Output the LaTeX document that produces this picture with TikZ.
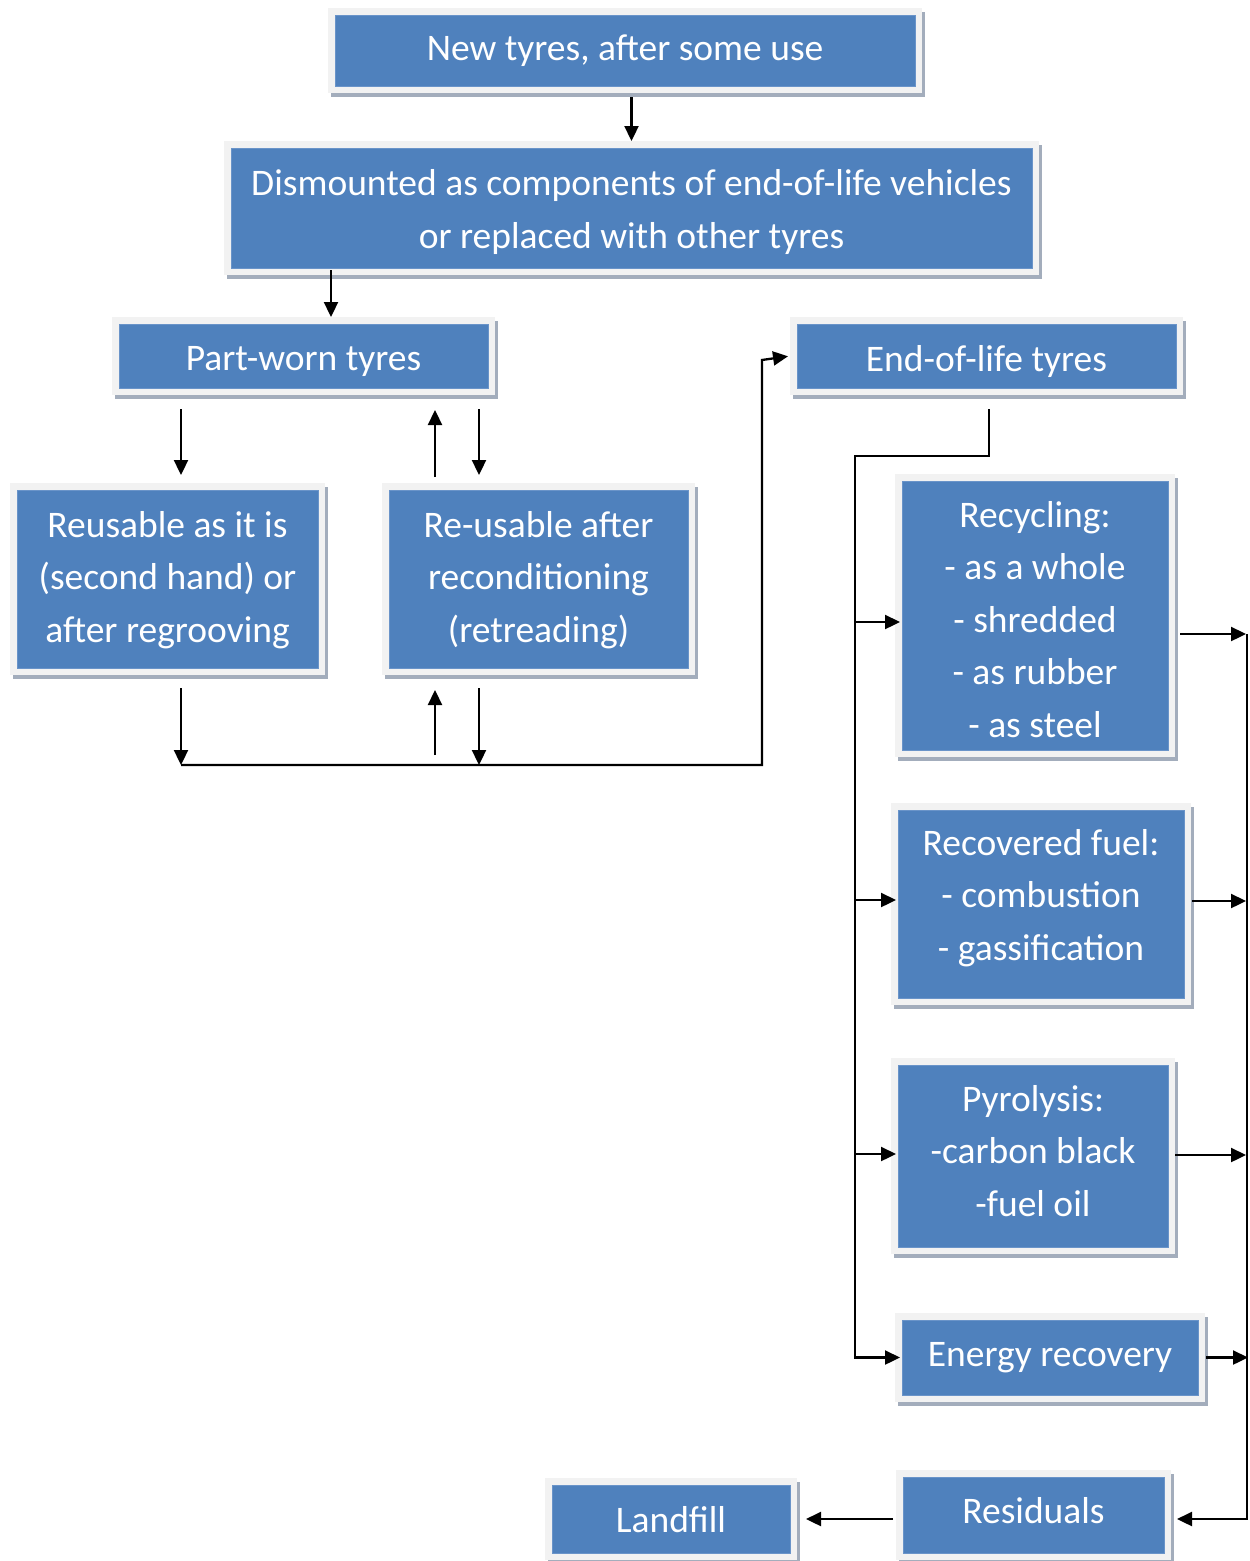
\documentclass[tikz,border=0pt]{standalone}
\usepackage{fontspec}
\setmainfont{Carlito}
\usetikzlibrary{arrows.meta,calc}
\definecolor{boxblue}{HTML}{4F81BD}
\definecolor{boxedge}{HTML}{6A94C9}
\definecolor{framec}{HTML}{F2F2F2}
\definecolor{shadowc}{HTML}{A3ADBC}
\tikzset{
  boxshape/.style={fill=boxblue, draw=boxedge, line width=1pt, inner sep=0pt, outer sep=7pt},
  boxtext/.style={text=white, align=center, inner sep=0pt, font=\fontsize{37.5}{52.4}\selectfont},
  conn/.style={draw, line width=2.3pt},
  arr/.style={conn, -{Triangle[length=15pt,width=14pt]}}
}
% #1 name, #2 cx, #3 cy, #4 w, #5 h, #6 text offset, #7 text
\newcommand\mybox[7]{%
  \fill[shadowc] ({#2-#4/2-7+3},{#3-#5/2-7+4}) rectangle ({#2+#4/2+7+3},{#3+#5/2+7+4});
  \fill[framec] ({#2-#4/2-7},{#3-#5/2-7}) rectangle ({#2+#4/2+7},{#3+#5/2+7});
  \node[boxshape, minimum width=#4pt, minimum height=#5pt] (#1) at (#2,#3) {};
  \node[boxtext] (#1t) at (#2,{#3+#6}) {#7};
}
\begin{document}
\begin{tikzpicture}[x=1pt,y=-1pt]
\useasboundingbox[fill=white] (0,0) rectangle (1250,1561);
\mybox{newt}{625}{50.5}{580}{71}{0}{New tyres, after some use}
\mybox{dism}{631.5}{208}{801}{120}{4}{Dismounted as components of end-of-life vehicles\\or replaced with other tyres}
\mybox{pw}{303.5}{356}{369}{64}{5}{Part-worn tyres}
\mybox{eol}{986.5}{356}{379}{64}{5}{End-of-life tyres}
\mybox{reuse}{167.5}{579}{301}{178}{1}{Reusable as it is\\(second hand) or\\after regrooving}
\mybox{reat}{538.5}{579}{299}{178}{1}{Re-usable after\\reconditioning\\(retreading)}
\mybox{recyc}{1035}{615.5}{266}{269}{4}{Recycling:\\- as a whole\\- shredded\\- as rubber\\- as steel}
\mybox{recov}{1041}{904}{286}{188}{-6}{Recovered fuel:\\- combustion\\- gassification}
\mybox{pyro}{1033}{1156}{270}{182}{-5}{Pyrolysis:\\-carbon black\\-fuel oil}
\mybox{energy}{1050}{1357.5}{296}{75}{0}{Energy recovery}
\mybox{land}{671}{1519}{238}{68}{1}{Landfill}
\mybox{resid}{1033.5}{1515}{261}{76}{-4}{Residuals}

% column / row coordinates
\coordinate (x181) at (181,0);
\coordinate (x331) at (331,0);
\coordinate (x435) at (435,0);
\coordinate (x479) at (479,0);
\coordinate (x762) at (762,0);
\coordinate (x855) at (855,0);
\coordinate (x989) at (989,0);
\coordinate (x1247) at (1247,0);
\coordinate (yb) at (0,765);
\coordinate (y456) at (0,456);
\coordinate (yeol) at (0,360);
\coordinate (r1) at (0,622);
\coordinate (r2) at (0,900);
\coordinate (r3) at (0,1154);
\coordinate (s1) at (0,634);
\coordinate (s2) at (0,901);
\coordinate (s3) at (0,1155);
\coordinate (yres) at (0,1519);

\draw[arr, shorten <=4pt] (dism.north |- newt.south) -- (dism.north);
\draw[arr, shorten <=-5pt] (x331 |- dism.south) -- (x331 |- pw.north);
\draw[arr, shorten <=14pt, shorten >=8pt] (x181 |- pw.south) -- (x181 |- reuse.north);
\draw[arr, shorten <=6pt, shorten >=15pt] (x435 |- reat.north) -- (x435 |- pw.south);
\draw[arr, shorten <=14pt, shorten >=8pt] (x479 |- pw.south) -- (x479 |- reat.north);

\draw[arr, shorten <=13pt] (x181 |- reuse.south) -- (x181 |- yb);
\draw[arr, shorten <=10pt, shorten >=15pt] (x435 |- yb) -- (x435 |- reat.south);
\draw[arr, shorten <=13pt] (x479 |- reat.south) -- (x479 |- yb);
\draw[arr, shorten >=2pt] (x181 |- yb) -- (x762 |- yb) -- (x762 |- yeol) -- (eol.west);

\draw[arr, shorten <=14pt, shorten >=-5pt] (x989 |- eol.south) -- (x989 |- y456) -- (x855 |- y456)
  -- (x855 |- energy.west) -- (energy.west);
\draw[arr, shorten >=-5pt] (x855 |- r1) -- (recyc.west |- r1);
\draw[arr, shorten >=-5pt] (x855 |- r2) -- (recov.west |- r2);
\draw[arr, shorten >=-5pt] (x855 |- r3) -- (pyro.west |- r3);

\draw[arr, shorten <=5pt, shorten >=1pt] (recyc.east |- s1) -- (x1247 |- s1);
\draw[arr, shorten <=1pt, shorten >=1pt] (recov.east |- s2) -- (x1247 |- s2);
\draw[arr, shorten >=1pt] (pyro.east |- s3) -- (x1247 |- s3);
\draw[arr, shorten <=1pt, shorten >=-1pt] (energy.east) -- (x1247 |- energy.east);
\draw[arr, shorten >=6pt] (x1247 |- s1) -- (x1247 |- yres) -- (resid.east |- yres);
\draw[arr, shorten <=3pt, shorten >=9pt] (resid.west |- yres) -- (land.east |- yres);
\end{tikzpicture}
\end{document}
